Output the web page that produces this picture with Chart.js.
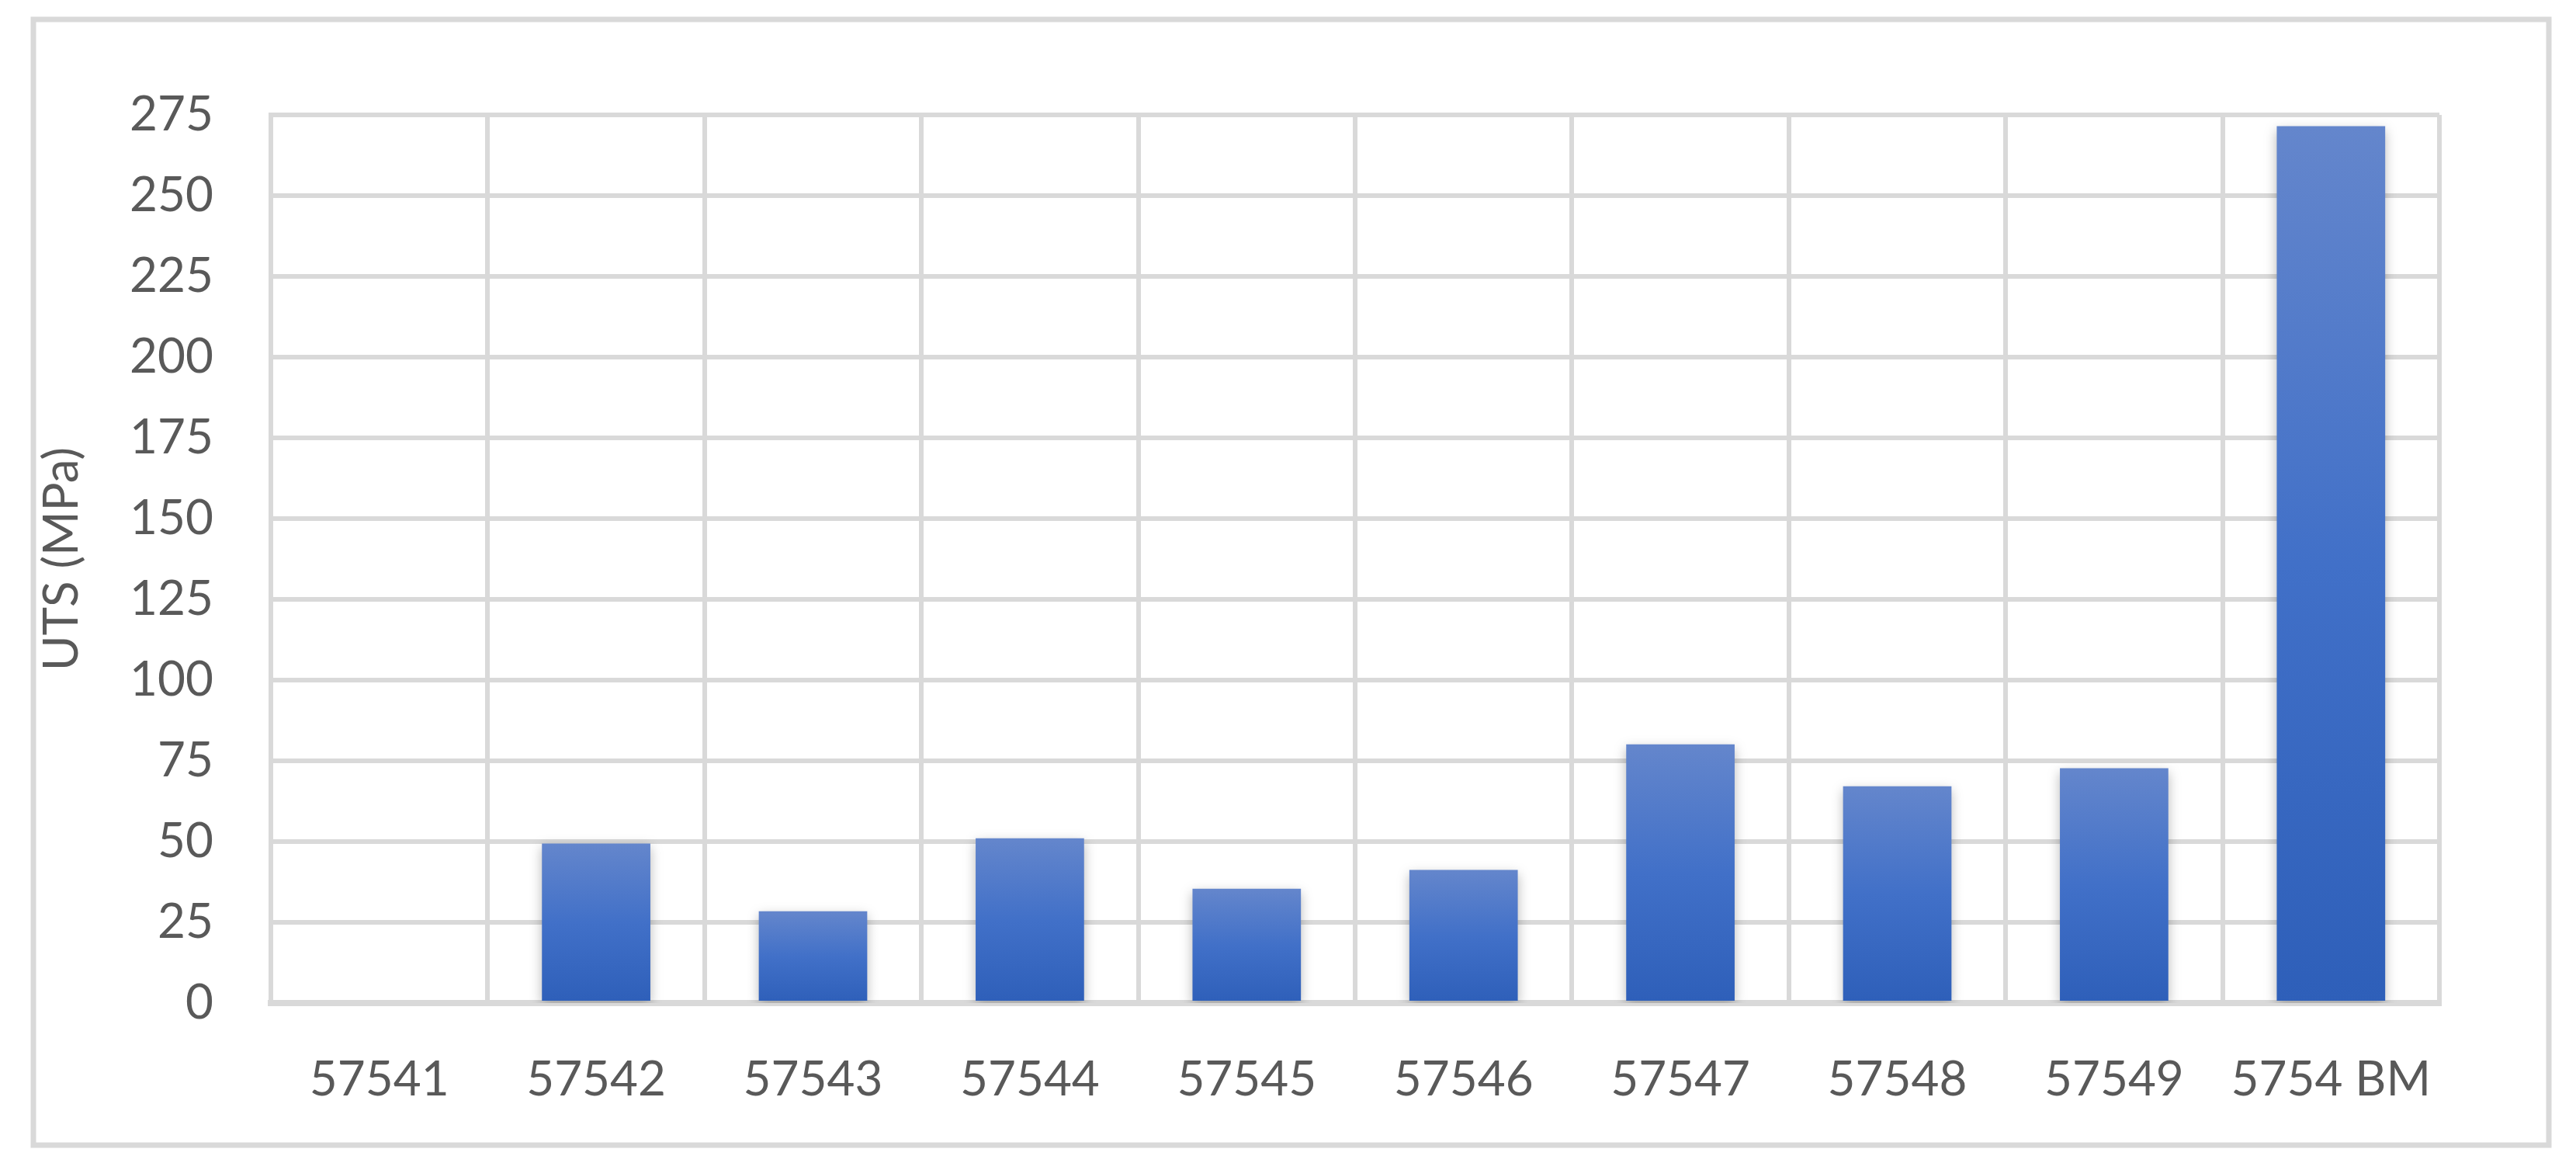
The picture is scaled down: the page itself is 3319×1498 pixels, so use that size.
<!DOCTYPE html>
<html>
<head>
<meta charset="utf-8">
<script src="https://cdn.jsdelivr.net/npm/chart.js@4.4.1/dist/chart.umd.min.js"></script>
<style>
  html, body { margin: 0; padding: 0; background: #ffffff; }
  canvas { display: block; }
</style>
</head>
<body>
<canvas id="utsChart" width="3319" height="1498"></canvas>
<script>
// specimen labels and UTS values
const categories = ['57541', '57542', '57543', '57544', '57545', '57546', '57547', '57548', '57549', '5754 BM'];
const utsValues = [0, 49.4, 28.4, 51.0, 35.4, 41.2, 80.1, 67.1, 72.7, 271.5];
const yTicks = [0, 25, 50, 75, 100, 125, 150, 175, 200, 225, 250, 275];

const textColor = '#595959';
const gridColor = '#d9d9d9';
const fontFamily = 'Lato, "Open Sans", sans-serif';

// outer frame like the Excel chart border
const framePlugin = {
    id: 'frame',
    beforeDraw(chart) {
        const ctx = chart.ctx;
        ctx.save();
        ctx.fillStyle = '#ffffff';
        ctx.fillRect(0, 0, chart.width, chart.height);
        ctx.strokeStyle = gridColor;
        ctx.lineWidth = 7;
        ctx.strokeRect(43, 25, 3284 - 43, 1475 - 25);
        ctx.restore();
    }
};

// soft glow/shadow around the bars
const shadowPlugin = {
    id: 'barShadow',
    beforeDatasetDraw(chart) {
        const ctx = chart.ctx;
        ctx.save();
        ctx.shadowColor = 'rgba(0, 0, 0, 0.28)';
        ctx.shadowBlur = 14;
        ctx.shadowOffsetX = 0;
        ctx.shadowOffsetY = 5;
    },
    afterDatasetDraw(chart) {
        chart.ctx.restore();
    }
};

function barGradient(context) {
    const chart = context.chart;
    const yScale = chart.scales.y;
    if (!yScale || context.dataIndex === undefined) return '#4472c4';
    const v = utsValues[context.dataIndex];
    const top = yScale.getPixelForValue(v);
    const base = yScale.getPixelForValue(0);
    if (!isFinite(top) || !isFinite(base) || base - top < 1) return '#4472c4';
    const g = chart.ctx.createLinearGradient(0, top, 0, base);
    g.addColorStop(0, '#6486cc');
    g.addColorStop(0.5, '#4170c8');
    g.addColorStop(1, '#2e5fb9');
    return g;
}

new Chart(document.getElementById('utsChart').getContext('2d'), {
    type: 'bar',
    data: {
        labels: categories,
        datasets: [{
            label: 'UTS (MPa)',
            data: utsValues,
            backgroundColor: barGradient,
            borderWidth: 0,
            barPercentage: 0.5,
            categoryPercentage: 1.0
        }]
    },
    options: {
        responsive: false,
        animation: false,
        layout: { padding: { left: 43, top: 148, right: 176, bottom: 50 } },
        plugins: {
            legend: { display: false },
            tooltip: { enabled: false }
        },
        scales: {
            x: {
                grid: { color: gridColor, lineWidth: 6, drawTicks: false, offset: true },
                border: { color: gridColor, width: 8 },
                ticks: {
                    color: textColor,
                    font: { family: fontFamily, size: 62 },
                    padding: 62,
                    maxRotation: 0,
                    autoSkip: false
                },
                afterFit(scale) { scale.height = 156; }
            },
            y: {
                min: 0,
                max: 275,
                afterBuildTicks(scale) { scale.ticks = yTicks.map(v => ({ value: v })); },
                grid: { color: gridColor, lineWidth: 6, drawTicks: false },
                border: { color: gridColor, width: 6 },
                ticks: {
                    color: textColor,
                    font: { family: fontFamily, size: 62 },
                    padding: 74
                },
                title: {
                    display: true,
                    text: 'UTS (MPa)',
                    color: textColor,
                    font: { family: fontFamily, size: 62 },
                    padding: 0
                },
                afterFit(scale) { scale.width = 306; }
            }
        }
    },
    plugins: [framePlugin, shadowPlugin]
});
</script>
</body>
</html>
